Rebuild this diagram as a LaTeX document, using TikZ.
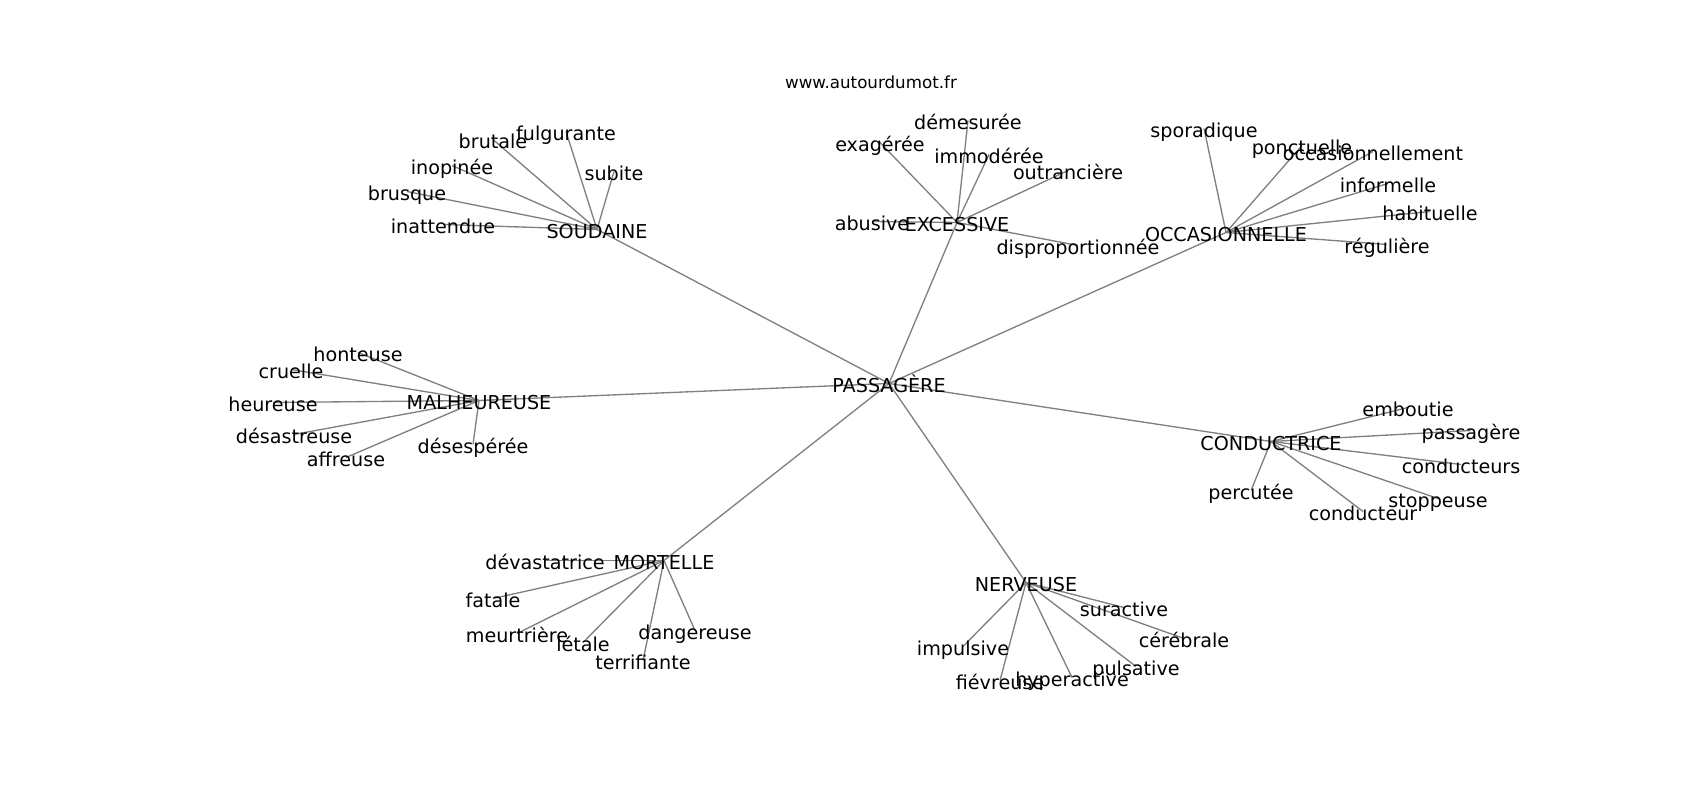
\documentclass[tikz,border=0pt]{standalone}
\usepackage{fontspec}
\setmainfont{DejaVu Sans}
\usetikzlibrary{backgrounds}
\tikzset{
  word/.style={inner sep=0pt, text height=0.76em, text depth=0.24em,
    font=\fontsize{5.45}{6}\selectfont},
  link/.style={draw=gray, line width=0.38pt}
}
\begin{document}
\begin{tikzpicture}[every node/.style={word}]
      \useasboundingbox (0,-0.025) rectangle (17,7.975);
      \node[font=\fontsize{4.75}{5.5}\selectfont] (site) at (8.71,7.18) {www.autourdumot.fr};
      % hubs
      \draw
        (8.89,4.14) node (pas){PASSAGÈRE}
        (5.97,5.68) node (sou){SOUDAINE}
        (9.57,5.75) node (exc){EXCESSIVE}
        (12.26,5.65) node (occ){OCCASIONNELLE}
        (4.79,3.97) node (mal){MALHEUREUSE}
        (12.71,3.56) node (con){CONDUCTRICE}
        (6.64,2.37) node (mor){MORTELLE}
        (10.26,2.15) node (ner){NERVEUSE};
      % leaves
      \draw
        (4.93,6.58) node (sou1){brutale}
        (5.66,6.66) node (sou2){fulgurante}
        (6.14,6.26) node (sou3){subite}
        (4.52,6.32) node (sou4){inopinée}
        (4.07,6.06) node (sou5){brusque}
        (4.43,5.73) node (sou6){inattendue}
        (9.68,6.77) node (exc1){démesurée}
        (8.80,6.55) node (exc2){exagérée}
        (9.89,6.43) node (exc3){immodérée}
        (10.68,6.27) node (exc4){outrancière}
        (8.72,5.76) node (exc5){abusive}
        (10.78,5.52) node (exc6){disproportionnée}
        (12.04,6.69) node (occ1){sporadique}
        (13.02,6.52) node (occ2){ponctuelle}
        (13.73,6.46) node (occ3){occasionnellement}
        (13.88,6.14) node (occ4){informelle}
        (14.30,5.86) node (occ5){habituelle}
        (13.87,5.53) node (occ6){régulière}
        (3.58,4.45) node (mal1){honteuse}
        (2.91,4.28) node (mal2){cruelle}
        (2.73,3.95) node (mal3){heureuse}
        (2.94,3.63) node (mal4){désastreuse}
        (3.46,3.40) node (mal5){affreuse}
        (4.73,3.53) node (mal6){désespérée}
        (14.08,3.90) node (con1){emboutie}
        (14.71,3.67) node (con2){passagère}
        (14.61,3.33) node (con3){conducteurs}
        (14.38,2.99) node (con4){stoppeuse}
        (13.63,2.86) node (con5){conducteur}
        (12.51,3.07) node (con6){percutée}
        (5.45,2.37) node (mor1){dévastatrice}
        (4.93,1.99) node (mor2){fatale}
        (5.17,1.64) node (mor3){meurtrière}
        (5.83,1.55) node (mor4){létale}
        (6.95,1.67) node (mor5){dangereuse}
        (6.43,1.37) node (mor6){terrifiante}
        (11.24,1.90) node (ner1){suractive}
        (11.84,1.59) node (ner2){cérébrale}
        (9.63,1.51) node (ner3){impulsive}
        (10.00,1.17) node (ner4){fiévreuse}
        (10.72,1.20) node (ner5){hyperactive}
        (11.36,1.31) node (ner6){pulsative};
      \begin{scope}[on background layer]
        \foreach \h in {sou,exc,occ,mal,con,mor,ner}
          \draw[link] (pas.center) to (\h.center);
        \foreach \h in {sou,exc,occ,mal,con,mor,ner}
          \foreach \i in {1,...,6}
            \draw[link] (\h.center) to (\h\i.center);
      \end{scope}
    \end{tikzpicture}
\end{document}
